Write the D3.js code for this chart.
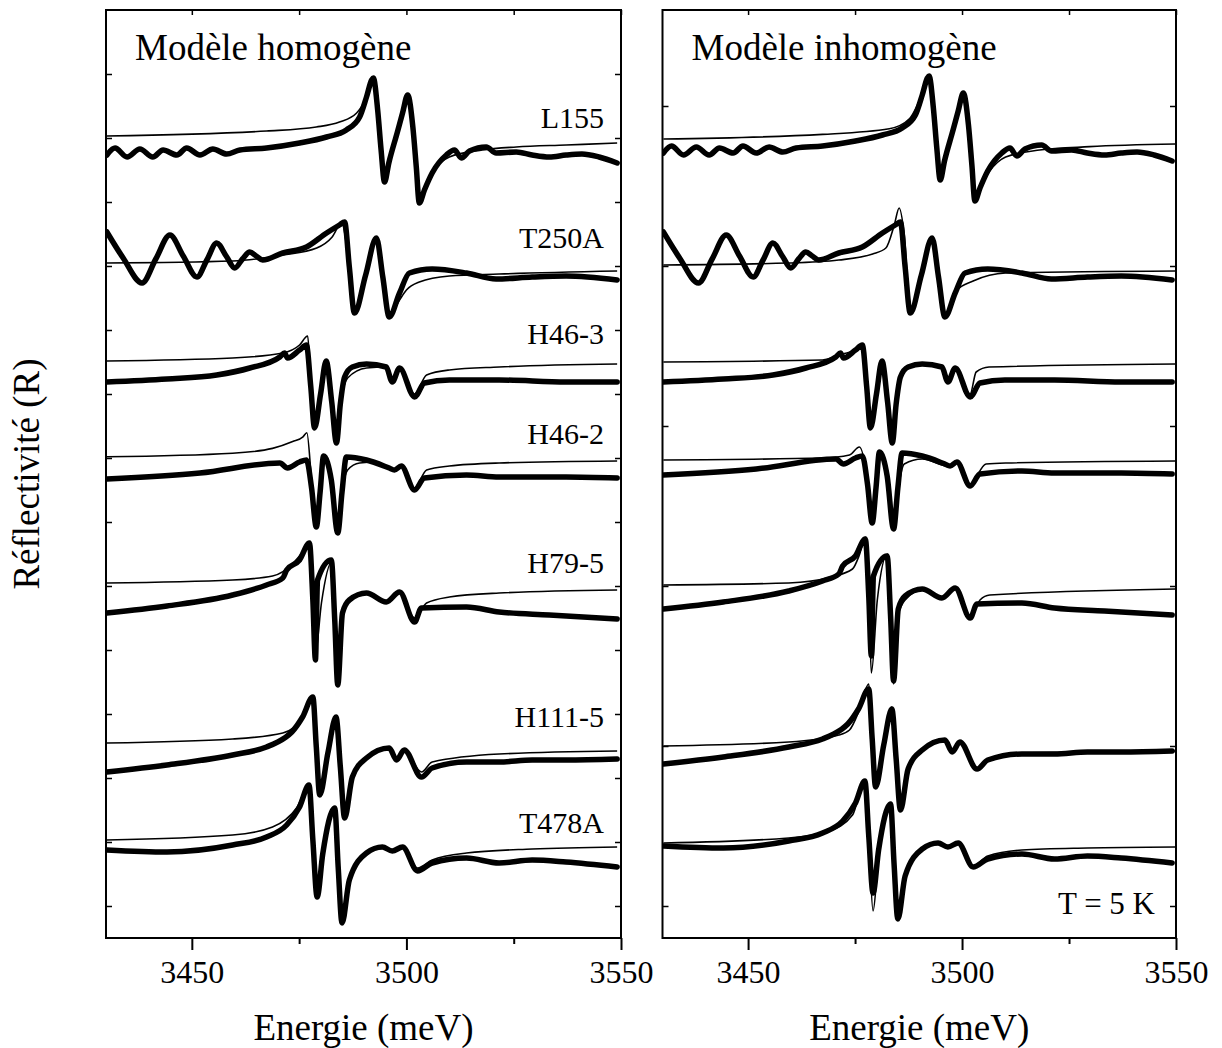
<!DOCTYPE html>
<html>
<head>
<meta charset="utf-8">
<script src="https://cdn.jsdelivr.net/npm/d3@7"></script>
<style>
  body { margin: 0; background: #fff; }
  svg text { font-family: "Liberation Serif", "Times New Roman", serif; fill: #000; }
</style>
</head>
<body>
<svg id="chart" width="1222" height="1048"></svg>
<script>
// Exciton reflectivity spectra of seven samples, measured (thick) and fitted (thin),
// with a homogeneous and an inhomogeneous broadening model.

const samples = ["L155", "T250A", "H46-3", "H46-2", "H79-5", "H111-5", "T478A"];
const energyTicks = [3450, 3500, 3550];
const energyMinorTicks = [3475, 3525];

// vertical shift of each spectrum (arbitrary units) in each panel
const offsetsHomogene = [197, 168.75, 139.5, 115.5, 84.5, 44.5, 20.5];
const offsetsInhomogene = [197.5, 168.75, 139.5, 116.5, 85.5, 46.5, 21.5];

// measured spectra: [energy (meV), reflectivity relative to offset]
const measL155 = [[3430.2,-1.25],[3432.1,0.5],[3434.9,-1.75],[3437.9,0.25],[3440.9,-1.75],[3443.3,0],[3446.5,-1.25],[3448.8,0.5],[3451.9,-1.25],[3454.9,0.25],[3458.1,-1],[3461.2,0],[3467.4,0.5],[3475.1,1.75],[3481.4,3.25],[3486.0,5],[3489.1,8.25],[3490.7,13.25],[3491.9,17.5],[3492.3,18],[3493.3,10],[3494.1,0],[3494.9,-8],[3495.9,-3.25],[3497.9,4.5],[3499.1,9.25],[3500.3,13.75],[3501.5,5.75],[3502.3,-4.25],[3503.0,-13.25],[3504.2,-10],[3506.0,-5.75],[3509.3,-1.25],[3511.2,0],[3512.8,-2],[3514.7,-0.25],[3518.6,0.75],[3520.9,-0.75],[3525.6,-0.5],[3529.3,-1.25],[3533.3,-1.75],[3537.2,-1.25],[3540.9,-1],[3544.9,-1.75],[3549.1,-3.25]];
const measT250A = [[3430.2,7.75],[3434.0,1.25],[3438.4,-5],[3441.6,1],[3444.9,7],[3448.0,1.75],[3451.2,-3.5],[3453.5,0.75],[3455.8,5],[3458.0,1.75],[3460.0,-1.25],[3461.8,1],[3463.5,2.75],[3465.0,1.75],[3466.5,0.75],[3471.2,2.5],[3476.7,4],[3481.4,7.5],[3484.4,9.5],[3485.6,10.25],[3486.7,-1],[3487.9,-12.5],[3490.5,-3],[3493.0,6.25],[3494.5,-3.5],[3496.0,-13.5],[3498.4,-7.5],[3500.7,-2.5],[3506.0,-1.5],[3514.0,-2.5],[3520.9,-4],[3529.3,-3.5],[3537.2,-3.25],[3549.1,-4.25]];
const measH46_3 = [[3430.2,-0.5],[3444.2,0.25],[3455.8,1.25],[3463.5,3],[3470.5,5.75],[3471.6,6.75],[3472.3,5.5],[3475.1,7.5],[3476.7,8.75],[3477.7,-1.5],[3478.6,-12],[3480.0,-3.5],[3481.3,4.75],[3482.6,-5.5],[3483.7,-15.75],[3484.6,-6],[3485.6,0.75],[3487.4,3.25],[3490.7,4],[3495.3,3.25],[3496.7,-0.5],[3498.4,3],[3501.9,-4.25],[3504.2,-0.75],[3510.0,0],[3521.6,0],[3537.2,-0.5],[3549.1,-0.5]];
const measH46_2 = [[3430.2,-0.75],[3451.9,0.75],[3470.5,3.25],[3472.3,2],[3475.1,3.5],[3476.7,4],[3477.9,-3],[3479.0,-12.75],[3479.9,-3.9],[3480.7,5],[3482.5,-1],[3484.0,-14.25],[3485.0,-4],[3486.0,4.75],[3490.7,4],[3496.0,2],[3497.2,1.5],[3498.8,2.5],[3501.9,-3.5],[3504.2,-0.5],[3514.0,0.25],[3521.6,-0.25],[3537.2,-0.25],[3549.1,-0.5]];
const measH79_5 = [[3430.2,-3.25],[3444.2,-1.5],[3459.5,1.25],[3467.4,3.75],[3471.2,5.5],[3472.1,7.5],[3475.1,10],[3477.4,14.25],[3478.2,0],[3478.8,-15],[3479.3,5],[3482.5,10],[3483.3,-5],[3484.0,-21.25],[3485.1,-3.25],[3486.7,0],[3490.7,1.75],[3495.3,-0.5],[3498.4,2],[3501.9,-5.5],[3503.5,-2],[3514.0,-1.75],[3521.6,-3],[3533.3,-3.75],[3549.1,-4.75]];
const measH111_5 = [[3430.2,-3],[3444.2,-1.25],[3459.5,1.25],[3467.4,3.25],[3471.6,5.5],[3473.3,7],[3475.8,10.75],[3478.2,15.75],[3479.0,3.3],[3479.8,-8.75],[3481.7,1.75],[3483.6,10.75],[3484.6,-1.7],[3485.6,-14.5],[3487.4,-4.25],[3490.7,0.5],[3496.0,3],[3497.7,0],[3499.5,2.5],[3503.5,-4.25],[3506.0,-2],[3514.0,-0.5],[3521.6,-0.5],[3529.3,0],[3537.2,0],[3549.1,0.25]];
const measT478A = [[3430.2,1.5],[3444.2,1],[3459.5,2.75],[3467.4,4.75],[3472.1,7.75],[3475.1,12.25],[3477.3,17.75],[3478.2,4],[3479.2,-10.25],[3480.5,0.5],[3483.3,12],[3484.1,-2.7],[3485.0,-16.75],[3486.7,-6],[3490.7,0.75],[3494.4,2.25],[3496.7,1.25],[3499.1,2.25],[3502.6,-3.75],[3506.0,-1.75],[3514.0,-0.5],[3521.6,-1.75],[3529.3,-1],[3537.2,-1.5],[3549.1,-2.75]];

// fits with the homogeneous model
const homL155 = [[3430.2,3.5],[3467.4,4.75],[3479.0,5.75],[3484.4,7],[3488.4,9.25],[3490.7,13.25],[3492.1,17.5],[3493.3,10],[3494.1,0],[3494.9,-7.5],[3495.9,-3],[3497.9,4.5],[3499.1,9],[3500.2,13.5],[3501.5,5.75],[3502.3,-4],[3503.0,-12.5],[3504.2,-9.5],[3506.0,-5.75],[3510.0,-1.75],[3517.7,0],[3525.6,0.75],[3537.2,1.25],[3549.1,1.75]];
const homT250A = [[3430.2,0],[3459.5,0.5],[3471.2,2],[3479.1,3.75],[3482.7,6.5],[3484.9,10],[3486.7,-1],[3487.9,-12.25],[3490.5,-3],[3493.0,5.75],[3494.5,-3.75],[3496.0,-13.25],[3498.4,-9.25],[3500.0,-6.75],[3503.0,-4.75],[3510.0,-3.25],[3521.6,-2.75],[3549.1,-2]];
const homH46_3 = [[3430.2,4.75],[3459.5,5.5],[3471.2,6.75],[3475.1,8.75],[3477.0,11],[3477.7,-1],[3478.6,-11.25],[3480.0,-3.5],[3481.3,4.5],[3482.6,-5.5],[3483.7,-15],[3484.8,-5],[3486.3,0.5],[3490.7,3],[3495.3,3.25],[3496.7,0],[3498.4,3],[3501.9,-3.5],[3504.7,1.25],[3510.0,2.5],[3521.6,3.25],[3549.1,4]];
const homH46_2 = [[3430.2,4.8],[3459.5,5.7],[3468.8,6.9],[3473.5,8.6],[3475.9,9.8],[3476.8,10.8],[3477.9,-1],[3479.0,-12.25],[3479.9,-3.5],[3480.7,4.5],[3482.5,-1.5],[3484.0,-14],[3485.0,-4],[3486.3,1.5],[3489.1,3.25],[3493.0,3.5],[3496.0,2],[3497.2,1.5],[3498.8,2.5],[3501.9,-3],[3504.7,1.5],[3510.0,2.5],[3521.6,3.25],[3549.1,3.75]];
const homH79_5 = [[3430.2,4.25],[3459.5,5],[3468.8,6],[3473.6,9.2],[3475.9,12.1],[3477.3,14.3],[3478.1,0],[3478.8,-13.25],[3480.2,-0.75],[3482.6,9.5],[3483.3,-5],[3483.8,-20],[3485.1,-4.25],[3486.7,0],[3490.7,1.75],[3495.3,-0.5],[3498.4,2],[3501.9,-4.5],[3504.7,-0.75],[3510.0,0.75],[3521.6,1.75],[3549.1,2.5]];
const homH111_5 = [[3430.2,4.25],[3459.5,5.25],[3471.2,6.75],[3475.8,10.5],[3478.2,15.75],[3479.0,3.3],[3479.8,-8.25],[3481.7,1.75],[3483.6,10.75],[3484.6,-1.7],[3485.6,-13.75],[3487.4,-4.25],[3490.7,0.5],[3496.0,3.25],[3497.7,0.5],[3499.5,2.5],[3503.5,-3],[3506.0,-0.5],[3521.6,1.5],[3549.1,2.25]];
const homT478A = [[3430.2,4],[3459.5,5.25],[3468.8,7.25],[3474.4,12],[3477.3,17.5],[3478.2,4],[3479.2,-9.75],[3480.5,0.5],[3483.3,12],[3484.1,-2.7],[3485.0,-16],[3486.7,-6],[3490.7,0.75],[3494.4,2.25],[3496.7,1.25],[3499.1,2.25],[3502.6,-3],[3506.0,-1],[3514.0,0.75],[3529.3,1.75],[3549.1,2.25]];

// fits with the inhomogeneous model
const inhL155 = [[3430.2,2.25],[3467.4,3.4],[3483.0,4.8],[3487.7,7.3],[3490.7,13.5],[3492.3,18],[3493.3,10],[3494.1,0],[3494.9,-7.5],[3495.9,-3],[3497.9,4.5],[3499.1,9.25],[3500.3,13.75],[3501.5,5.75],[3502.3,-4.25],[3503.0,-12.75],[3504.2,-9.75],[3506.5,-5.7],[3510.2,-2.25],[3518.1,-0.5],[3529.8,0.35],[3549.8,1]];
const inhT250A = [[3430.2,-0.5],[3459.5,0],[3471.2,0.75],[3479.1,2.25],[3482.2,3.75],[3484.2,9.65],[3485.3,13.75],[3486.5,7],[3487.9,-11.75],[3490.5,-3],[3493.0,6.25],[3494.5,-3.75],[3496.0,-13.25],[3498.6,-7],[3502.6,-4.5],[3510.2,-2.5],[3549.8,-2]];
const inhH46_3 = [[3430.2,4.5],[3467.4,5],[3472.1,6.5],[3475.1,7.5],[3476.7,8.75],[3477.7,-1.5],[3478.6,-12],[3480.0,-3.5],[3481.3,4.75],[3482.6,-5.5],[3483.7,-15.5],[3484.6,-6],[3485.6,0.5],[3487.4,3],[3490.7,4],[3495.3,3.5],[3496.7,-0.25],[3498.4,3],[3501.9,-3.5],[3503.3,2],[3506.3,3.25],[3549.8,4]];
const inhH46_2 = [[3430.2,3],[3467.4,3.5],[3473.7,4.25],[3476.0,6.25],[3477.9,-2],[3479.0,-12.5],[3479.9,-4],[3480.7,5],[3482.5,-1.5],[3484.0,-14.25],[3485.0,-5],[3486.5,2],[3490.7,3.25],[3495.3,1.75],[3497.2,1.25],[3498.8,2.5],[3501.9,-3],[3505.6,2],[3510.2,2.25],[3549.8,2.75]];
const inhH79_5 = [[3430.2,2.75],[3459.5,3.25],[3469.3,4.75],[3474.4,6.75],[3476.0,10.25],[3477.4,14.75],[3478.2,1.5],[3478.8,-19.25],[3480.2,-1],[3482.6,10.5],[3483.3,-6],[3484.0,-22],[3485.1,-4.75],[3486.7,-1],[3490.7,1.5],[3495.3,-0.5],[3498.4,2],[3501.9,-5.5],[3504.2,-1],[3506.5,0.25],[3549.8,1.75]];
const inhH111_5 = [[3430.2,1.5],[3459.5,2.5],[3471.2,4.25],[3473.7,5.5],[3476.0,10.5],[3478.2,17],[3479.0,3],[3479.8,-8.25],[3481.7,1.75],[3483.6,11.25],[3484.6,-2],[3485.6,-14],[3487.4,-4.5],[3490.7,0.5],[3496.0,3],[3497.7,0],[3499.5,2.5],[3503.5,-4.5],[3506.0,-2],[3514.0,-0.25],[3529.3,0],[3549.8,0.25]];
const inhT478A = [[3430.2,2.25],[3459.5,3.5],[3468.8,5.25],[3474.4,9.25],[3477.3,18],[3478.2,4],[3479.2,-14.75],[3480.5,-1],[3483.3,12.25],[3484.1,-2.5],[3485.0,-17],[3486.7,-6.25],[3490.7,0.5],[3494.4,2.25],[3496.7,1.25],[3499.1,2.25],[3502.6,-3.5],[3506.0,-1],[3514.0,0.5],[3529.3,1],[3549.8,1.25]];

const measured = [measL155, measT250A, measH46_3, measH46_2, measH79_5, measH111_5, measT478A];
const fitsHomogene = [homL155, homT250A, homH46_3, homH46_2, homH79_5, homH111_5, homT478A];
const fitsInhomogene = [inhL155, inhT250A, inhH46_3, inhH46_2, inhH79_5, inhH111_5, inhT478A];

// ---- layout ----
const svg = d3.select("#chart");
const plotTop = 10, plotBottom = 938;
const y = d3.scaleLinear().domain([0, 232]).range([plotBottom, plotTop]);

const panels = [
  { x0: 106, x1: 621, title: "Modèle homogène", fits: fitsHomogene, offsets: offsetsHomogene,
    yTicks: d3.range(8, 232, 16), labels: true },
  { x0: 662.5, x1: 1176, title: "Modèle inhomogène", fits: fitsInhomogene, offsets: offsetsInhomogene,
    yTicks: d3.range(8, 232, 40), labels: false, note: "T = 5 K" }
];

panels.forEach((p, pi) => {
  const x = d3.scaleLinear().domain([3430, 3550]).range([p.x0, p.x1]);
  const g = svg.append("g");
  const clipId = "clip" + pi;
  svg.append("clipPath").attr("id", clipId).append("rect")
    .attr("x", p.x0).attr("y", plotTop).attr("width", p.x1 - p.x0).attr("height", plotBottom - plotTop);

  const plot = g.append("g").attr("clip-path", `url(#${clipId})`);

  samples.forEach((name, i) => {
    const off = p.offsets[i];
    const line = d3.line()
      .x(d => x(d[0]))
      .y(d => y(off + d[1]))
      .curve(d3.curveMonotoneX);
    plot.append("path")
      .attr("d", line(measured[i]))
      .attr("fill", "none").attr("stroke", "#000")
      .attr("stroke-width", 5.5).attr("stroke-linejoin", "round").attr("stroke-linecap", "round");
    plot.append("path")
      .attr("d", line(p.fits[i]))
      .attr("fill", "none").attr("stroke", "#000")
      .attr("stroke-width", 1.6);
  });

  // bottom axis: major and minor ticks
  const xAxis = g.append("g").attr("transform", `translate(0,${plotBottom})`)
    .call(d3.axisBottom(x).tickValues(energyTicks).tickSize(12).tickPadding(10).tickFormat(d3.format("d")));
  xAxis.select(".domain").remove();
  xAxis.selectAll("line").attr("stroke-width", 2);
  xAxis.selectAll("text").attr("font-size", 32).attr("font-family", "Liberation Serif");
  const xMinor = g.append("g").attr("transform", `translate(0,${plotBottom})`)
    .call(d3.axisBottom(x).tickValues(energyMinorTicks).tickSize(6).tickFormat(""));
  xMinor.select(".domain").remove();
  xMinor.selectAll("line").attr("stroke-width", 2);

  // top axis ticks pointing inward
  const xTop = g.append("g").attr("transform", `translate(0,${plotTop})`)
    .call(d3.axisTop(x).tickValues(energyTicks.concat(energyMinorTicks)).tickSize(-5).tickFormat(""));
  xTop.select(".domain").remove();
  xTop.selectAll("line").attr("stroke-width", 1.5);

  // y ticks on both vertical edges, pointing inward, no labels
  const yl = g.append("g").attr("transform", `translate(${p.x0},0)`)
    .call(d3.axisLeft(y).tickValues(p.yTicks).tickSize(-6).tickFormat(""));
  yl.select(".domain").remove();
  yl.selectAll("line").attr("stroke-width", 1.5);
  const yr = g.append("g").attr("transform", `translate(${p.x1},0)`)
    .call(d3.axisRight(y).tickValues(p.yTicks).tickSize(-6).tickFormat(""));
  yr.select(".domain").remove();
  yr.selectAll("line").attr("stroke-width", 1.5);

  // frame
  g.append("rect")
    .attr("x", p.x0).attr("y", plotTop).attr("width", p.x1 - p.x0).attr("height", plotBottom - plotTop)
    .attr("fill", "none").attr("stroke", "#000").attr("stroke-width", 2);

  // panel title
  g.append("text")
    .attr("x", p.x0 + 29).attr("y", 60)
    .attr("font-size", 37)
    .text(p.title);

  // sample labels
  if (p.labels) {
    const labelY = [128, 248, 344, 444, 573, 727, 833];
    samples.forEach((name, i) => {
      g.append("text")
        .attr("x", p.x1 - 17).attr("y", labelY[i])
        .attr("text-anchor", "end").attr("font-size", 30)
        .text(name);
    });
  }
  if (p.note) {
    g.append("text")
      .attr("x", p.x1 - 21).attr("y", 914)
      .attr("text-anchor", "end").attr("font-size", 31)
      .text(p.note);
  }

  // x axis title
  g.append("text")
    .attr("x", (p.x0 + p.x1) / 2).attr("y", 1040)
    .attr("text-anchor", "middle").attr("font-size", 37)
    .text("Energie (meV)");
});

// y axis title
svg.append("text")
  .attr("transform", `translate(39,${(plotTop + plotBottom) / 2}) rotate(-90)`)
  .attr("text-anchor", "middle").attr("font-size", 37)
  .text("Réflectivité (R)");
</script>
</body>
</html>
